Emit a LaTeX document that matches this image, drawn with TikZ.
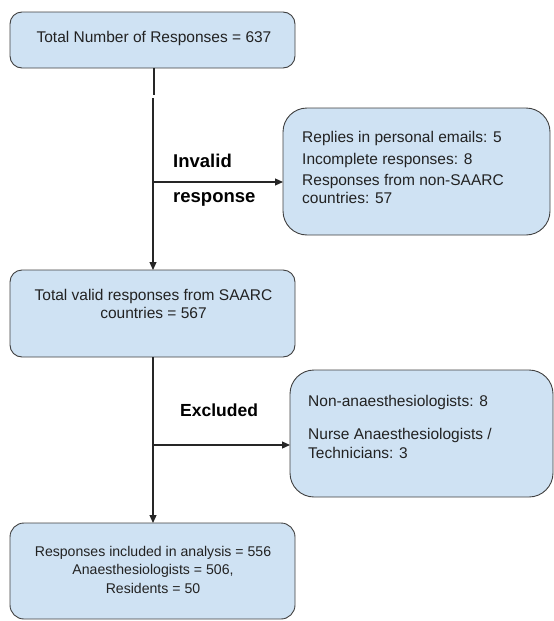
\documentclass[tikz,border=0pt]{standalone}
\usepackage{fontspec}
\setmainfont{Liberation Sans}
\usetikzlibrary{arrows.meta}
\definecolor{boxfill}{HTML}{CFE2F3}
\definecolor{boxline}{HTML}{404040}
\definecolor{txtc}{HTML}{222222}
\begin{document}
\begin{tikzpicture}[x=1pt,y=-1pt,
 box/.style={draw=boxline, fill=boxfill, line width=0.9pt, inner sep=0pt, outer sep=0pt, rectangle},
 txt/.style={inner sep=0pt, anchor=base, text=txtc, font=\fontsize{15.5}{18}\selectfont},
 stxt/.style={txt, font=\fontsize{14.1}{17}\selectfont},
 ltxt/.style={txt, anchor=base west},
 lbl/.style={inner sep=0pt, anchor=base west, text=black, font=\bfseries\fontsize{18.5}{21}\selectfont},
 conn/.style={draw=black!85, line width=1.2pt},
 arr/.style={conn, -{Triangle[length=8pt,width=7pt]}}]
\useasboundingbox (0,0) rectangle (554,621);
% boxes
\node[box, minimum width=285pt, minimum height=56pt, rounded corners=12pt] (b1) at (152.5,40) {};
\node[box, minimum width=267pt, minimum height=127pt, rounded corners=24pt] (b2) at (416.5,171.5) {};
\node[box, minimum width=285pt, minimum height=87pt, rounded corners=12pt] (b3) at (152.5,313.5) {};
\node[box, minimum width=263pt, minimum height=127pt, rounded corners=24pt] (b4) at (421.5,433.5) {};
\node[box, minimum width=285pt, minimum height=96pt, rounded corners=14pt] (b5) at (152.5,571) {};
% texts
\node[txt] (t1) at (154,42) {Total Number of Responses = 637};
\node[txt] (t3a) at (153.5,300) {Total valid responses from SAARC};
\node[txt] (t3b) at (153.5,318) {countries = 567};
\node[stxt] (t5a) at (153,556) {Responses included in analysis = 556};
\node[stxt] (t5b) at (153,574.5) {Anaesthesiologists = 506,};
\node[stxt] (t5c) at (153,593) {Residents = 50};
\node[ltxt] (t2a) at (302,142) {Replies in personal emails: 5};
\node[ltxt] (t2b) at (302,164) {Incomplete responses: 8};
\node[ltxt] (t2c) at (302,185) {Responses from non-SAARC};
\node[ltxt] (t2d) at (302,203) {countries: 57};
\node[ltxt] (t4a) at (308,406) {Non-anaesthesiologists: 8};
\node[ltxt] (t4b) at (308,439) {Nurse Anaesthesiologists /};
\node[ltxt] (t4c) at (308,458) {Technicians: 3};
% labels
\node[lbl] (l1) at (173,167) {Invalid};
\node[lbl] (l2) at (173,202) {response};
\node[lbl, font=\bfseries\fontsize{17.5}{21}\selectfont] (l3) at (180,416.5) {Excluded};
% connectors
\coordinate (g1) at (154,95);
\coordinate (g2) at (153,98);
\coordinate (j1) at (153,182);
\coordinate (j2) at (153,445);
\draw[conn] (g1 |- b1.south) -- (g1);
\draw[arr] (g2) -- (g2 |- b3.north);
\draw[arr] (j1) -- (j1 -| b2.west);
\draw[arr] (j1 |- b3.south) -- (j1 |- b5.north);
\draw[arr] (j2) -- (j2 -| b4.west);
\end{tikzpicture}
\end{document}
